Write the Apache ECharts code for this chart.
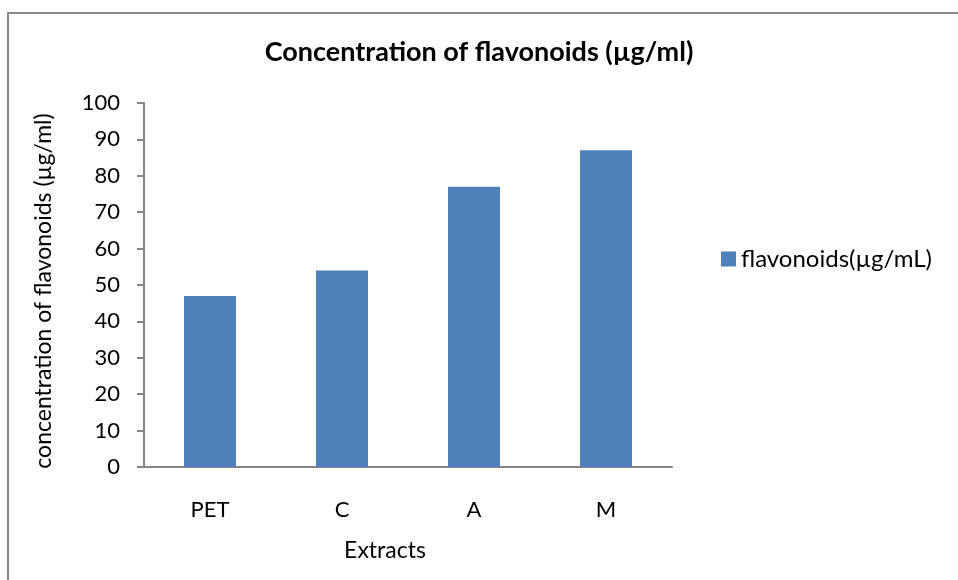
<!DOCTYPE html>
<html>
<head>
<meta charset="utf-8">
<script src="https://cdn.jsdelivr.net/npm/echarts@6/dist/echarts.min.js"></script>
<style>
  html, body { margin: 0; padding: 0; background: #fff; }
  #chart { width: 958px; height: 580px; }
</style>
</head>
<body>
<div id="chart"></div>
<script>
// Concentration of flavonoids per extract
var categories = ['PET', 'C', 'A', 'M'];
var flavonoids = [47, 54, 77, 87];
var seriesName = 'flavonoids(\u00b5g/mL)';

var chartDom = document.getElementById('chart');
var myChart = echarts.init(chartDom);
var font = 'Lato, "Open Sans", sans-serif';

var option = {
  animation: false,
  backgroundColor: '#fff',
  textStyle: { fontFamily: font },
  title: {
    text: 'Concentration of flavonoids (\u00b5g/ml)',
    left: 'center',
    top: 34,
    textStyle: { fontFamily: font, fontWeight: 'bold', fontSize: 27, color: '#000' }
  },
  legend: {
    left: 716,
    top: 242,
    itemWidth: 15,
    itemHeight: 15,
    itemGap: 8,
    icon: 'rect',
    textStyle: { fontFamily: font, fontSize: 24, color: '#000' },
    data: [seriesName]
  },
  grid: {
    left: 144,
    right: 286,
    top: 103,
    bottom: 113
  },
  xAxis: {
    type: 'category',
    data: categories,
    name: 'Extracts',
    nameLocation: 'middle',
    nameGap: 72,
    nameTextStyle: { fontFamily: font, fontSize: 23, color: '#000', padding: [0, 46, 0, 0] },
    axisLine: { lineStyle: { color: '#868686', width: 2 } },
    axisTick: { alignWithLabel: false, length: 8, lineStyle: { color: '#868686', width: 2 } },
    axisLabel: { fontFamily: font, fontSize: 22, color: '#000', margin: 32 }
  },
  yAxis: {
    type: 'value',
    min: 0,
    max: 100,
    interval: 10,
    name: 'concentration of flavonoids (\u00b5g/ml)',
    nameLocation: 'middle',
    nameGap: 89,
    nameTextStyle: { fontFamily: font, fontSize: 23, color: '#000', padding: [0, 12, 0, 0] },
    axisLine: { show: true, lineStyle: { color: '#868686', width: 2 } },
    axisTick: { show: true, length: 7, lineStyle: { color: '#868686', width: 2 } },
    axisLabel: { fontFamily: font, fontSize: 22, color: '#000', margin: 24 },
    splitLine: { show: false }
  },
  series: [{
    name: seriesName,
    type: 'bar',
    data: flavonoids,
    barWidth: 52,
    itemStyle: { color: '#4f81bd' }
  }],
  graphic: [{
    type: 'rect',
    shape: { x: 8, y: 13, width: 1000, height: 1000 },
    style: { fill: 'none', stroke: '#898989', lineWidth: 2 },
    silent: true
  }]
};

option && myChart.setOption(option);
</script>
</body>
</html>
